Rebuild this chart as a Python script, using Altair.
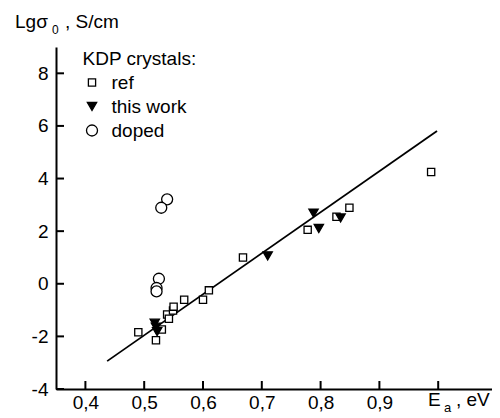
import altair as alt
import pandas as pd

FONT = "Liberation Sans"
FS = 19

series_names = ["ref", "this work", "doped"]

ref_x = [0.49, 0.52, 0.53, 0.539, 0.542, 0.549, 0.55, 0.568, 0.60, 0.61, 0.668, 0.778, 0.827, 0.849, 0.988]
ref_y = [-1.84, -2.15, -1.74, -1.17, -1.33, -1.02, -0.87, -0.61, -0.61, -0.25, 1.0, 2.05, 2.55, 2.89, 4.25]

work_x = [0.518, 0.520, 0.522, 0.71, 0.788, 0.797, 0.834]
work_y = [-1.50, -1.65, -1.82, 1.06, 2.68, 2.10, 2.50]

doped_x = [0.539, 0.529, 0.525, 0.521, 0.521]
doped_y = [3.21, 2.89, 0.19, -0.16, -0.29]

fit_x = [0.437, 0.998]
fit_y = [-2.94, 5.81]

x_tick_values = [0.4, 0.5, 0.6, 0.7, 0.8, 0.9, 1.0]
x_label_values = [0.4, 0.5, 0.6, 0.7, 0.8, 0.9]
y_tick_values = [-4, -2, 0, 2, 4, 6, 8]

legend_title = "KDP crystals:"
y_title_main = "Lg\u03c3"
y_title_sub = "0"
y_title_rest = ", S/cm"
x_title_main = "E"
x_title_sub = "a"
x_title_rest = ", eV"

df = pd.DataFrame({
    "x": ref_x + work_x + doped_x,
    "y": ref_y + work_y + doped_y,
    "series": ["ref"] * len(ref_x) + ["this work"] * len(work_x) + ["doped"] * len(doped_x),
})
fit_df = pd.DataFrame({"x": fit_x, "y": fit_y})

W, H = 436, 342
xs = alt.Scale(domain=[0.35, 1.0915], nice=False, zero=False)
ys = alt.Scale(domain=[-4, 9], nice=False, zero=False)

xa = alt.Axis(values=x_label_values, ticks=False, grid=False, title=None,
              labelExpr="replace(format(datum.value, '.1f'), '.', ',')", labelPadding=4)
ya = alt.Axis(values=y_tick_values, ticks=False, grid=False, title=None,
              labelExpr="toString(datum.value)", labelPadding=8)

leg = alt.Legend(title=legend_title, orient="none", legendX=26.5, legendY=3,
                 symbolStrokeColor="black", symbolStrokeWidth=1.3)

line = alt.Chart(fit_df).mark_line(color="black", strokeWidth=1.8).encode(
    x=alt.X("x:Q", scale=xs, axis=xa),
    y=alt.Y("y:Q", scale=ys, axis=ya),
)

points = alt.Chart(df).mark_point(filled=True, strokeWidth=1.3, opacity=1).encode(
    x=alt.X("x:Q", scale=xs, axis=xa),
    y=alt.Y("y:Q", scale=ys, axis=ya),
    shape=alt.Shape("series:N", scale=alt.Scale(domain=series_names, range=["square", "triangle-down", "circle"]), legend=leg),
    fill=alt.Fill("series:N", scale=alt.Scale(domain=series_names, range=["white", "black", "white"]), legend=leg),
    stroke=alt.Stroke("series:N", scale=alt.Scale(domain=series_names, range=["black", "black", "black"]), legend=leg),
    size=alt.Size("series:N", scale=alt.Scale(domain=series_names, range=[52, 121, 62]), legend=leg),
)

xt = alt.Chart(pd.DataFrame({"v": x_tick_values})).mark_rule(strokeWidth=2, color="black").encode(
    x=alt.X("v:Q", scale=xs, axis=xa), y=alt.value(H), y2=alt.value(H - 8))

yt = alt.Chart(pd.DataFrame({"v": y_tick_values})).mark_rule(strokeWidth=2, color="black").encode(
    y=alt.Y("v:Q", scale=ys, axis=ya), x=alt.value(0), x2=alt.value(8))


def txt(s, x, y, size=FS):
    return alt.Chart(pd.DataFrame({"t": [s]})).mark_text(
        align="left", baseline="alphabetic", font=FONT, fontSize=size, color="black").encode(
        text="t:N", x=alt.value(x), y=alt.value(y))


titles = [
    txt(y_title_main, -41, -19),
    txt(y_title_sub, -4, -13, 12),
    txt(y_title_rest, 9, -19),
    txt(x_title_main, 372, 359),
    txt(x_title_sub, 388, 365, 13),
    txt(x_title_rest, 400, 359),
]

chart = alt.layer(line, points, xt, yt, *titles).properties(
    width=W, height=H,
    autosize="none",
    padding={"left": 48, "top": 39, "right": 0, "bottom": 25},
).configure_view(stroke=None).configure_axis(
    domainColor="black", domainWidth=2, labelFont=FONT, labelFontSize=FS, labelColor="black",
).configure_legend(
    padding=0, titlePadding=4, rowPadding=4, labelOffset=10,
    titleFont=FONT, titleFontSize=FS, titleFontWeight="normal", titleColor="black", titleLimit=0,
    labelFont=FONT, labelFontSize=FS, labelColor="black",
)

chart.save("out.html", embed_options={"renderer": "svg", "actions": False})
